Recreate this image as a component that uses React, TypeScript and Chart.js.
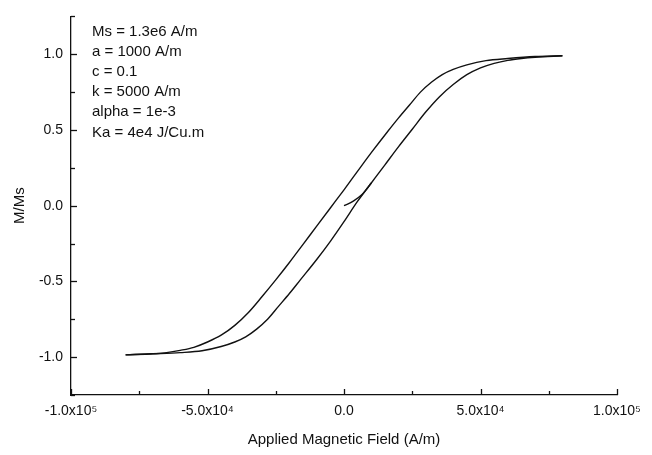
import React, { useEffect, useRef } from "react";
import { Chart, registerables } from "chart.js";

Chart.register(...registerables);

// Descending branch (upper curve), H in A/m, M/Ms (listed by increasing H)
const descH = [-80000, -70000, -65000, -60000, -55000, -50000, -45000, -40000, -35000, -30000, -25000, -20000, -15000, -10000, -5000, 0, 5000, 10000, 16000, 20000, 24000, 28000, 32000, 36000, 40000, 45000, 52000, 60000, 70000, 80000];
const descM = [-0.985, -0.978, -0.97, -0.955, -0.935, -0.9, -0.855, -0.79, -0.705, -0.6, -0.49, -0.375, -0.255, -0.135, -0.015, 0.105, 0.228, 0.35, 0.49, 0.58, 0.665, 0.75, 0.815, 0.866, 0.9, 0.93, 0.958, 0.972, 0.985, 0.99];

// Ascending branch (lower curve)
const ascH = [-80000, -70000, -60000, -52000, -45000, -40000, -36000, -32000, -28000, -24000, -20000, -16000, -10000, -5000, 0, 5000, 10000, 15000, 20000, 25000, 30000, 35000, 40000, 45000, 50000, 55000, 60000, 65000, 70000, 80000];
const ascM = [-0.985, -0.978, -0.97, -0.958, -0.93, -0.9, -0.866, -0.815, -0.75, -0.665, -0.58, -0.49, -0.355, -0.235, -0.105, 0.03, 0.15, 0.27, 0.39, 0.505, 0.62, 0.72, 0.8, 0.865, 0.91, 0.94, 0.96, 0.972, 0.98, 0.99];

// Initial magnetization curve
const initH = [0, 3400, 6500, 8300, 10000];
const initM = [0, 0.03, 0.072, 0.11, 0.15];

const xTickValues = [-100000, -50000, 0, 50000, 100000];
const xTickLabels = ["-1.0x10\u2075", "-5.0x10\u2074", "0.0", "5.0x10\u2074", "1.0x10\u2075"];
const yTickValues = [-1.0, -0.5, 0.0, 0.5, 1.0];
const yTickLabels = ["-1.0", "-0.5", "0.0", "0.5", "1.0"];

const paramLines = [
  "Ms = 1.3e6 A/m",
  "a = 1000 A/m",
  "c = 0.1",
  "k = 5000 A/m",
  "alpha = 1e-3",
  "Ka = 4e4 J/Cu.m",
];

const FONT = "'Liberation Sans', Arial, Helvetica, sans-serif";
const INK = "#111111";

const pts = (xs: number[], ys: number[]) => xs.map((x, i) => ({ x, y: ys[i] }));

const findLabel = (vals: number[], labels: string[], v: number) => {
  for (let i = 0; i < vals.length; i++) {
    if (Math.abs(vals[i] - v) < 1e-6 * Math.max(1, Math.abs(vals[i]))) return labels[i];
  }
  return "";
};

const tickPlugin = {
  id: "innerTicks",
  afterDraw(chart: any) {
    const { ctx, chartArea, scales } = chart;
    ctx.save();
    ctx.strokeStyle = INK;
    ctx.lineWidth = 1.3;
    const xs = scales.x;
    xs.ticks.forEach((t: any) => {
      const px = Math.round(xs.getPixelForValue(t.value)) + 0.5;
      const major = findLabel(xTickValues, xTickLabels, t.value) !== "";
      const len = major ? 6 : 4;
      ctx.beginPath();
      ctx.moveTo(px, chartArea.bottom);
      ctx.lineTo(px, chartArea.bottom - len);
      ctx.stroke();
    });
    const ys = scales.y;
    ys.ticks.forEach((t: any) => {
      const py = Math.round(ys.getPixelForValue(t.value)) + 0.5;
      const major = findLabel(yTickValues, yTickLabels, t.value) !== "";
      const len = major ? 6 : 4;
      ctx.beginPath();
      ctx.moveTo(chartArea.left, py);
      ctx.lineTo(chartArea.left + len, py);
      ctx.stroke();
    });
    // parameter text
    ctx.fillStyle = INK;
    ctx.font = `15px ${FONT}`;
    ctx.textAlign = "left";
    ctx.textBaseline = "middle";
    paramLines.forEach((s, i) => {
      ctx.fillText(s, chartArea.left + 21, chartArea.top + 15 + i * 20.2);
    });
    ctx.restore();
  },
};

export default function App() {
  const ref = useRef<HTMLCanvasElement | null>(null);
  useEffect(() => {
    if (!ref.current) return;
    const lineStyle = {
      borderColor: INK,
      borderWidth: 1.4,
      pointRadius: 0,
      fill: false,
      cubicInterpolationMode: "monotone" as const,
    };
    const chart = new Chart(ref.current, {
      type: "line",
      data: {
        datasets: [
          { ...lineStyle, label: "descending", data: pts(descH, descM) },
          { ...lineStyle, label: "ascending", data: pts(ascH, ascM) },
          { ...lineStyle, label: "initial", data: pts(initH, initM) },
        ],
      },
      options: {
        animation: false,
        responsive: true,
        maintainAspectRatio: false,
        devicePixelRatio: 1,
        layout: { padding: { top: 8, right: 35, left: 0, bottom: 0 } },
        plugins: { legend: { display: false }, tooltip: { enabled: false } },
        scales: {
          x: {
            type: "linear",
            min: -100000,
            max: 100000,
            afterFit: (s: any) => { s.height = 60; },
            afterBuildTicks: (s: any) => {
              s.ticks = [-100000, -75000, -50000, -25000, 0, 25000, 50000, 75000, 100000].map((v) => ({ value: v }));
            },
            grid: { display: false, drawTicks: false },
            border: { display: true, color: INK, width: 1.3 },
            ticks: {
              autoSkip: false,
              maxRotation: 0,
              padding: 8,
              color: INK,
              font: { family: FONT, size: 14 },
              callback: (v: any) => findLabel(xTickValues, xTickLabels, Number(v)),
            },
            title: {
              display: true,
              text: "Applied Magnetic Field (A/m)",
              color: INK,
              font: { family: FONT, size: 15 },
              padding: { top: 0, bottom: 6 },
            },
          },
          y: {
            type: "linear",
            min: -1.25,
            max: 1.25,
            afterFit: (s: any) => { s.width = 71; },
            afterBuildTicks: (s: any) => {
              s.ticks = [-1.25, -1.0, -0.75, -0.5, -0.25, 0, 0.25, 0.5, 0.75, 1.0, 1.25].map((v) => ({ value: v }));
            },
            grid: { display: false, drawTicks: false },
            border: { display: true, color: INK, width: 1.3 },
            ticks: {
              autoSkip: false,
              padding: 8,
              color: INK,
              font: { family: FONT, size: 14 },
              callback: (v: any) => findLabel(yTickValues, yTickLabels, Number(v)),
            },
            title: {
              display: true,
              text: "M/Ms",
              color: INK,
              font: { family: FONT, size: 15 },
              padding: { top: 11, bottom: 0 },
            },
          },
        },
      },
      plugins: [tickPlugin],
    });
    return () => chart.destroy();
  }, []);
  return (
    <div style={{ position: "fixed", left: 0, top: 0, width: 652, height: 455, background: "#fff" }}>
      <canvas ref={ref} />
    </div>
  );
}
